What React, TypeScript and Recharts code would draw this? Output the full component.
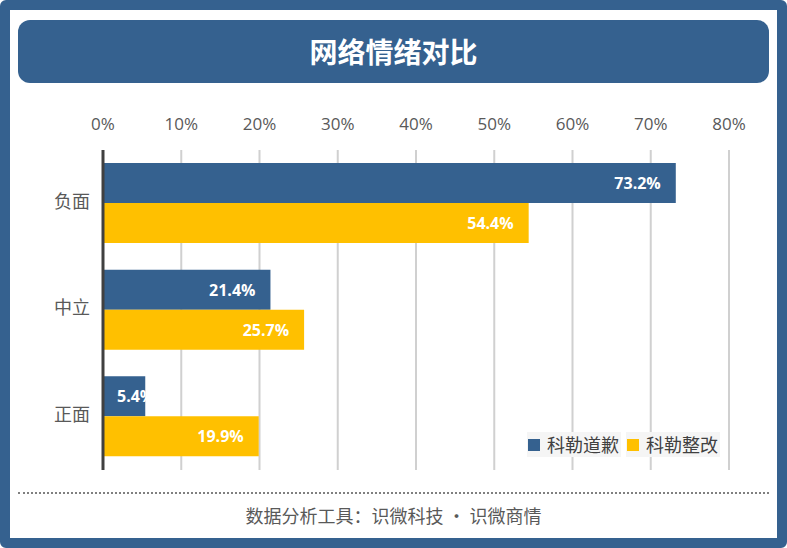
import React from "react";
import { BarChart, Bar, XAxis, YAxis, CartesianGrid, LabelList } from "recharts";

const categories = ["负面", "中立", "正面"];
const apologyValues = [73.2, 21.4, 5.4];
const rectifyValues = [54.4, 25.7, 19.9];
const xTicks = [0, 10, 20, 30, 40, 50, 60, 70, 80];
const seriesNames = ["科勒道歉", "科勒整改"];
const title = "网络情绪对比";
const footer = "数据分析工具：识微科技 • 识微商情";

const BLUE = "#35618F";
const YELLOW = "#FFC000";
const FONT = '"Open Sans", "Noto Sans CJK SC", sans-serif';

const data = categories.map((name, i) => ({
  name,
  apology: apologyValues[i],
  rectify: rectifyValues[i],
}));

const renderLabel = (props: any) => {
  const { x, y, width, height, value } = props;
  const short = width < 50;
  return (
    <text
      x={short ? x + 14 : x + width - 15}
      y={y + height / 2}
      textAnchor={short ? "start" : "end"}
      dominantBaseline="central"
      fill="#ffffff"
      fontWeight={700}
      fontSize={16}
      fontFamily={FONT}
    >
      {value.toFixed(1) + "%"}
    </text>
  );
};

export default function App() {
  return (
    <div
      style={{
        position: "fixed",
        left: 0,
        top: 0,
        width: 787,
        height: 548,
        background: "#ffffff",
        fontFamily: FONT,
        overflow: "hidden",
      }}
    >
      <div style={{ position: "absolute", left: 0, top: 0 }}>
        <BarChart
          width={787}
          height={548}
          data={data}
          layout="vertical"
          margin={{ top: 120, right: 58, bottom: 78, left: 43 }}
          barSize={40}
          barGap={0}
        >
          <CartesianGrid horizontal={false} vertical={true} stroke="#d0d0d0" strokeWidth={2} />
          <XAxis
            type="number"
            orientation="top"
            domain={[0, 80]}
            ticks={xTicks}
            tickFormatter={(v: number) => v + "%"}
            axisLine={false}
            tickLine={false}
            tickSize={0}
            tickMargin={20}
            height={30}
            tick={{ fill: "#595959", fontSize: 17, fontFamily: FONT }}
            interval={0}
          />
          <YAxis
            type="category"
            dataKey="name"
            width={60}
            axisLine={{ stroke: "#404040", strokeWidth: 3 }}
            tickLine={false}
            tickSize={0}
            tickMargin={13}
            tick={{ fill: "#595959", fontSize: 18, fontFamily: FONT, dy: -2 }}
          />
          <Bar dataKey="apology" name={seriesNames[0]} fill={BLUE} isAnimationActive={false}>
            <LabelList dataKey="apology" content={renderLabel} />
          </Bar>
          <Bar dataKey="rectify" name={seriesNames[1]} fill={YELLOW} isAnimationActive={false}>
            <LabelList dataKey="rectify" content={renderLabel} />
          </Bar>
        </BarChart>
      </div>

      {/* Title bar */}
      <div
        style={{
          position: "absolute",
          left: 18,
          top: 20,
          width: 751,
          height: 63,
          background: BLUE,
          borderRadius: 12,
          color: "#ffffff",
          fontWeight: 700,
          fontSize: 28,
          lineHeight: "63px",
          textAlign: "center",
          fontFamily: '"Noto Sans CJK SC", sans-serif',
        }}
      >
        {title}
      </div>

      {/* Legend */}
      <div
        style={{
          position: "absolute",
          left: 527,
          top: 432,
          display: "flex",
          gap: 5,
          fontFamily: '"Noto Sans CJK SC", sans-serif',
        }}
      >
        {[BLUE, YELLOW].map((c, i) => (
          <div
            key={i}
            style={{
              display: "flex",
              alignItems: "center",
              height: 25,
              background: "#f5f5f5",
              paddingLeft: 1,
              paddingRight: 2,
            }}
          >
            <div style={{ width: 12, height: 12, background: c, marginRight: 7 }} />
            <span style={{ fontSize: 18, color: "#404040", lineHeight: "25px" }}>{seriesNames[i]}</span>
          </div>
        ))}
      </div>

      {/* Dotted divider */}
      <div
        style={{
          position: "absolute",
          left: 18,
          top: 492,
          width: 751,
          height: 0,
          borderTop: "2px dotted #808080",
        }}
      />

      {/* Footer */}
      <div
        style={{
          position: "absolute",
          left: 0,
          top: 503,
          width: 787,
          textAlign: "center",
          fontSize: 18,
          lineHeight: "24px",
          color: "#595959",
          fontFamily: '"Noto Sans CJK SC", sans-serif',
        }}
      >
        {footer}
      </div>

      {/* Outer frame */}
      <div
        style={{
          position: "absolute",
          left: 0,
          top: 0,
          width: 787,
          height: 548,
          boxSizing: "border-box",
          border: "10px solid " + BLUE,
          borderRadius: 6,
          pointerEvents: "none",
        }}
      />
    </div>
  );
}
